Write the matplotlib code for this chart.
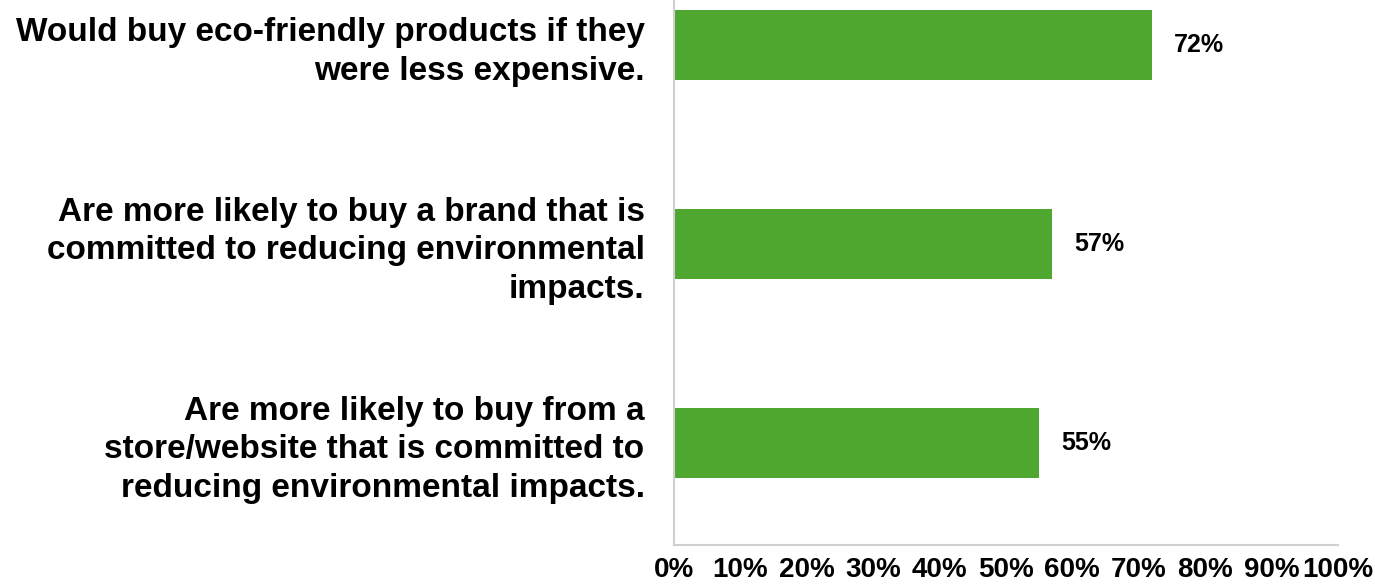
import matplotlib.pyplot as plt
from matplotlib import font_manager

statements = [
    "Would buy eco-friendly products if they\nwere less expensive.",
    "Are more likely to buy a brand that is\ncommitted to reducing environmental\nimpacts.",
    "Are more likely to buy from a\nstore/website that is committed to\nreducing environmental impacts.",
]
shares = [0.72, 0.57, 0.55]
tick_vals = [0, 0.1, 0.2, 0.3, 0.4, 0.5, 0.6, 0.7, 0.8, 0.9, 1.0]
tick_text = ["0%", "10%", "20%", "30%", "40%", "50%", "60%", "70%", "80%", "90%", "100%"]

green = "#4ea72e"
names = {f.name for f in font_manager.fontManager.ttflist}
narrow = "Liberation Sans Narrow" if "Liberation Sans Narrow" in names else "Liberation Sans"

fig = plt.figure(figsize=(13.75, 5.84), dpi=100)
ax = fig.add_axes([0.490, 0.067, 0.483, 0.933])

ypos = list(range(len(statements)))
ax.barh(ypos, shares, height=0.35, color=green)
for y, v in zip(ypos, shares):
    ax.annotate(f"{round(v * 100)}%", (v, y), xytext=(16, 0), textcoords="offset points",
                va="center", ha="left", fontsize=18, fontweight="bold",
                family="Liberation Sans", color="black")

ax.set_ylim(2.513, -0.226)
ax.set_xlim(0, 1)
ax.set_yticks(ypos)
ax.set_yticklabels(statements, fontsize=24, fontweight="bold", family="Liberation Sans",
                   linespacing=1.3, ha="right", multialignment="right")
ax.set_xticks(tick_vals)
ax.set_xticklabels(tick_text, fontsize=20, fontweight="bold", family=narrow)
ax.tick_params(axis="both", length=0)
ax.tick_params(axis="y", pad=21)
ax.tick_params(axis="x", pad=9)

for side in ["top", "right"]:
    ax.spines[side].set_visible(False)
for side in ["left", "bottom"]:
    ax.spines[side].set_color("#d0d0d0")
    ax.spines[side].set_linewidth(1.5)

fig.savefig("out.png", dpi=100)
